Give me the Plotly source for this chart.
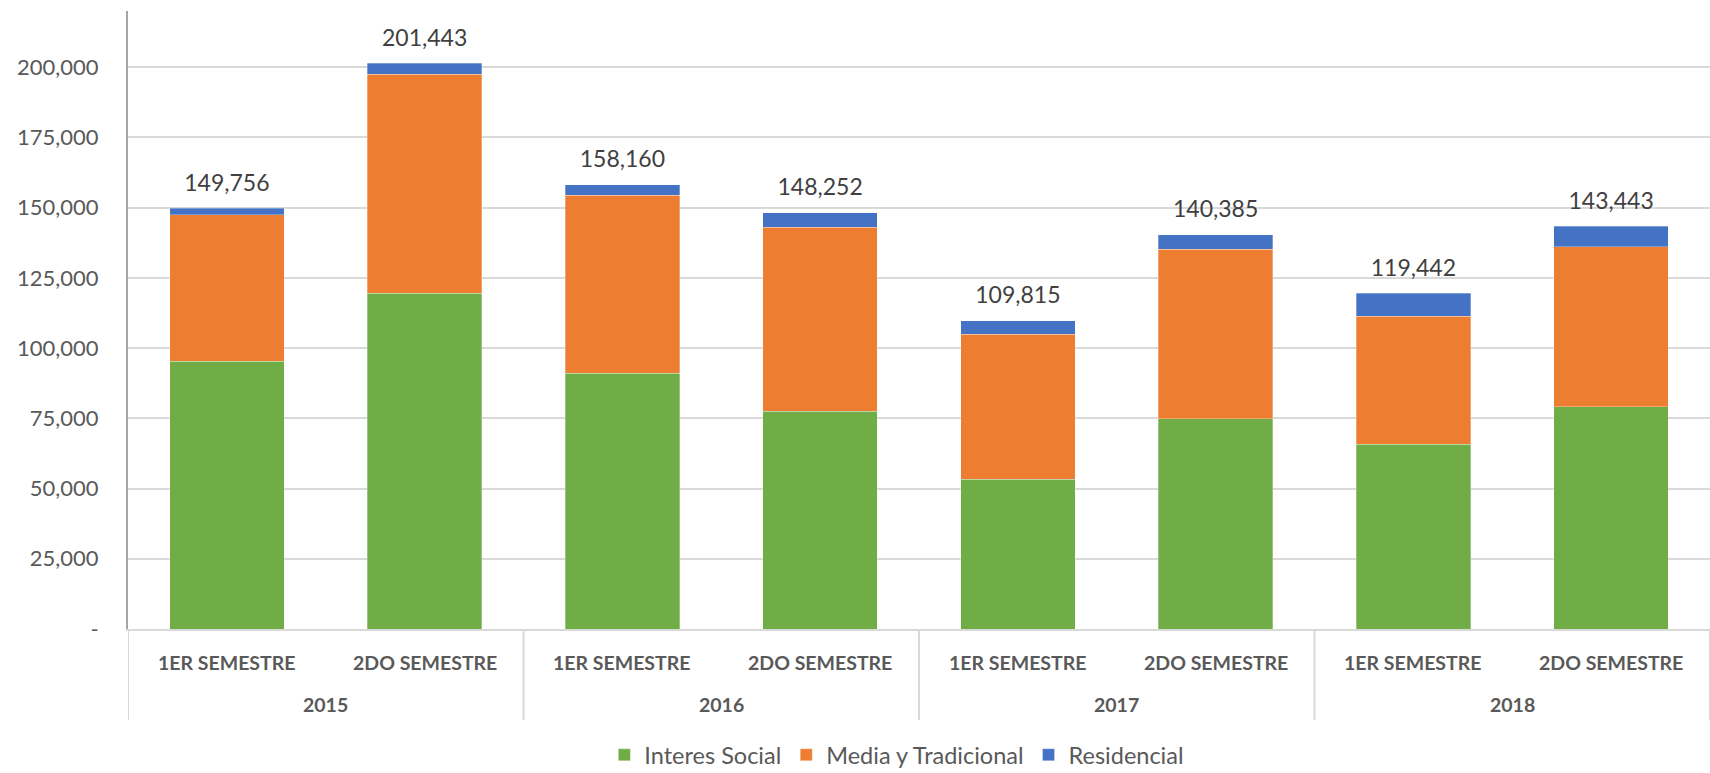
import plotly.graph_objects as go

years = ["2015", "2015", "2016", "2016", "2017", "2017", "2018", "2018"]
semesters = ["1ER SEMESTRE", "2DO SEMESTRE"] * 4
year_groups = ["2015", "2016", "2017", "2018"]

interes_social = [95300, 119500, 91000, 77500, 53300, 74800, 65800, 79200]
media_tradicional = [52100, 78000, 63400, 65600, 51600, 60400, 45600, 56900]
residencial = [2356, 3943, 3760, 5152, 4915, 5185, 8042, 7343]

y_tick_vals = [0, 25000, 50000, 75000, 100000, 125000, 150000, 175000, 200000]
y_tick_text = ["-", "25,000", "50,000", "75,000", "100,000", "125,000", "150,000", "175,000", "200,000"]

totals = [a + b + c for a, b, c in zip(interes_social, media_tradicional, residencial)]

# unique category keys (year + semester); labels are drawn as annotations below
keys = [f"{y} {s}" for y, s in zip(years, semesters)]
FONT = "Lato"

W, H = 1710, 773
ML, MR, MT, MB = 128, 0, 11, 144
PH = H - MT - MB


def ypix(py):
    """paper y for a pixel row in the figure"""
    return (H - MB - py) / PH


fig = go.Figure()
series = [
    ("Interes Social", interes_social, "#70AD47"),
    ("Media y Tradicional", media_tradicional, "#ED7D31"),
    ("Residencial", residencial, "#4472C4"),
]
for name, vals, color in series:
    fig.add_trace(go.Bar(
        x=keys, y=vals, name=name,
        marker=dict(color=color, line=dict(color="rgba(255,255,255,0.6)", width=0.5)),
    ))

fig.add_trace(go.Scatter(
    x=keys, y=totals, mode="markers+text",
    text=[f"{t:,}" for t in totals],
    textposition="top center",
    textfont=dict(family=FONT, size=23, color="#404040"),
    marker=dict(size=17, color="rgba(0,0,0,0)"),
    showlegend=False, hoverinfo="skip",
))

annotations = []
for i, s in enumerate(semesters):
    annotations.append(dict(
        x=i, y=ypix(662), xref="x", yref="paper", text=s, showarrow=False,
        xanchor="center", yanchor="middle",
        font=dict(family=FONT, size=19.5, color="#595959", weight="bold"),
    ))
for g, yr in enumerate(year_groups):
    annotations.append(dict(
        x=2 * g + 0.5, y=ypix(704), xref="x", yref="paper", text=yr, showarrow=False,
        xanchor="center", yanchor="middle",
        font=dict(family=FONT, size=19.5, color="#595959", weight="bold"),
    ))

shapes = []
for g in range(len(year_groups) + 1):
    shapes.append(dict(
        type="line", xref="x", yref="paper",
        x0=2 * g - 0.5, x1=2 * g - 0.5, y0=0, y1=ypix(720),
        line=dict(color="#D9D9D9", width=2),
    ))

fig.update_layout(
    width=W, height=H,
    barmode="stack",
    bargap=0.42,
    plot_bgcolor="white", paper_bgcolor="white",
    margin=dict(l=ML, r=MR, t=MT, b=MB, autoexpand=False),
    font=dict(family=FONT, color="#595959"),
    legend=dict(
        orientation="h", x=0.486, xanchor="center",
        y=ypix(755), yanchor="middle",
        font=dict(family=FONT, size=23.5, color="#595959"),
        traceorder="normal",
        itemwidth=30,
    ),
    annotations=annotations,
    shapes=shapes,
)

fig.update_xaxes(
    type="category",
    range=[-0.5, 7.5],
    showline=True, linecolor="#D9D9D9", linewidth=2,
    showticklabels=False,
    showgrid=False, ticks="", automargin=False,
)

fig.update_yaxes(
    range=[0, 220000],
    tickvals=y_tick_vals, ticktext=y_tick_text,
    showgrid=True, gridcolor="#D9D9D9", gridwidth=1.5,
    showline=True, linecolor="#A6A6A6", linewidth=2,
    zeroline=False,
    tickfont=dict(family=FONT, size=22, color="#595959"),
    ticks="", ticklabelstandoff=23, automargin=False,
)

fig.write_html(
    "out.html",
    config={"displayModeBar": False},
    post_script="document.documentElement.style.margin='0';"
                "document.body.style.margin='0';"
                "document.body.style.overflow='hidden';",
)
